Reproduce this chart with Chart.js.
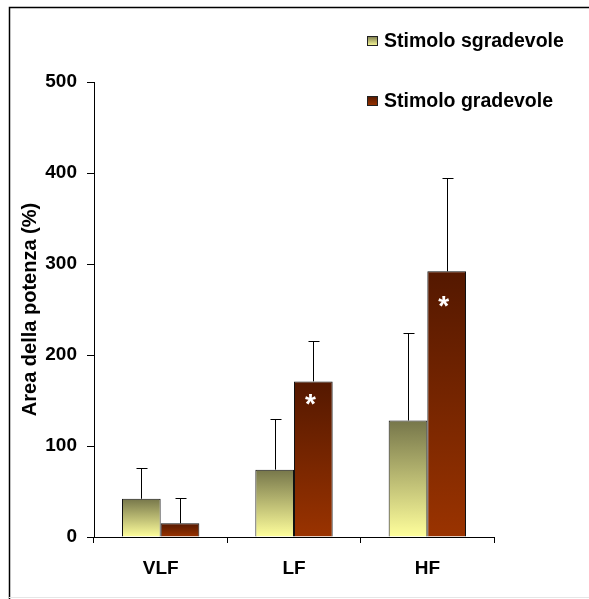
<!DOCTYPE html>
<html>
<head>
<meta charset="utf-8">
<script src="https://cdn.jsdelivr.net/npm/chart.js@4"></script>
<style>
  html, body { margin: 0; padding: 0; background: #fff; }
  #wrap { position: relative; width: 589px; height: 599px; }
  canvas { display: block; }
</style>
</head>
<body>
<div id="wrap"><canvas id="c" width="589" height="599"></canvas></div>
<script>
// Spectral bands on the x axis
const categories = ['VLF', 'LF', 'HF'];
// Series names
const seriesNames = ['Stimolo sgradevole', 'Stimolo gradevole'];
// Mean power area (%) per band
const sgradevole = [42, 74, 128];
const gradevole = [15, 171, 292];
// Upper error (SD) added above each mean
const sgradevoleErr = [34, 56, 96];
const gradevoleErr = [28, 44, 103];
// Significant difference marks (asterisk) per band, on the second series
const significant = [false, true, true];
// Y-axis tick values
const yTicks = [0, 100, 200, 300, 400, 500];

const FONT = '"Liberation Sans", Arial, Helvetica, sans-serif';

// vertical gradient spanning a bar from its top to the zero line
function barGradient(ctx, top, bottom, cTop, cBottom) {
  const g = ctx.createLinearGradient(0, top, 0, bottom);
  g.addColorStop(0, cTop);
  g.addColorStop(1, cBottom);
  return g;
}
const palettes = [
  ['#76764a', '#ffff9c'],
  ['#541800', '#9a3300']
];

function scriptedFill(dsIndex) {
  return function (context) {
    const chart = context.chart;
    const y = chart.scales.y;
    if (!y || context.type !== 'data') return palettes[dsIndex][1];
    const v = context.raw;
    const top = y.getPixelForValue(v);
    const bottom = y.getPixelForValue(0);
    if (!isFinite(top) || !isFinite(bottom) || top === bottom) return palettes[dsIndex][1];
    return barGradient(chart.ctx, top, bottom, palettes[dsIndex][0], palettes[dsIndex][1]);
  };
}

const errors = [sgradevoleErr, gradevoleErr];

// frame, error bars, asterisks and legend drawn on top of the bars
const extras = {
  id: 'extras',
  beforeDraw(chart) {
    const ctx = chart.ctx;
    ctx.save();
    ctx.fillStyle = '#fff';
    ctx.fillRect(0, 0, chart.width, chart.height);
    ctx.strokeStyle = '#000';
    ctx.lineWidth = 1.5;
    ctx.beginPath();
    ctx.moveTo(9.5, 599);
    ctx.lineTo(9.5, 7.5);
    ctx.lineTo(589, 7.5);
    ctx.stroke();
    ctx.strokeStyle = '#e6e6e6';
    ctx.lineWidth = 1;
    ctx.beginPath();
    ctx.moveTo(9, 597.5);
    ctx.lineTo(589, 597.5);
    ctx.stroke();
    ctx.restore();
  },
  afterDatasetsDraw(chart) {
    const ctx = chart.ctx;
    const y = chart.scales.y;
    ctx.save();
    // error bars
    ctx.strokeStyle = '#000';
    ctx.lineWidth = 1;
    chart.data.datasets.forEach((ds, di) => {
      const meta = chart.getDatasetMeta(di);
      meta.data.forEach((bar, i) => {
        const x = Math.round(bar.x) + 0.5;
        const yTop = y.getPixelForValue(ds.data[i]);
        const yErr = Math.round(y.getPixelForValue(ds.data[i] + errors[di][i])) + 0.5;
        ctx.beginPath();
        ctx.moveTo(x, yTop);
        ctx.lineTo(x, yErr);
        ctx.moveTo(x - 5, yErr);
        ctx.lineTo(x + 6, yErr);
        ctx.stroke();
      });
    });
    // asterisks on significant bars
    const meta = chart.getDatasetMeta(1);
    ctx.fillStyle = '#fff';
    ctx.font = 'bold 28px ' + FONT;
    ctx.textAlign = 'center';
    ctx.textBaseline = 'alphabetic';
    const m = ctx.measureText('*');
    const mid = (m.actualBoundingBoxAscent - m.actualBoundingBoxDescent) / 2;
    meta.data.forEach((bar, i) => {
      if (!significant[i]) return;
      const cy = y.getPixelForValue(gradevole[i] * 0.885);
      ctx.fillText('*', bar.x - 3, cy + mid);
    });
    ctx.restore();
  },
  afterDraw(chart) {
    const ctx = chart.ctx;
    ctx.save();
    const rows = [41, 101];
    ctx.font = 'bold 19.5px ' + FONT;
    ctx.textAlign = 'left';
    ctx.textBaseline = 'middle';
    seriesNames.forEach((name, i) => {
      const cy = rows[i];
      const bx = 367, by = cy - 5, bw = 11, bh = 10;
      ctx.fillStyle = barGradient(ctx, by, by + bh, palettes[i][0], palettes[i][1]);
      ctx.fillRect(bx, by, bw, bh);
      ctx.strokeStyle = '#222';
      ctx.lineWidth = 1;
      ctx.strokeRect(bx + 0.5, by + 0.5, bw - 1, bh - 1);
      ctx.fillStyle = '#000';
      ctx.fillText(name, 384, cy + 1);
    });
    ctx.restore();
  }
};

new Chart(document.getElementById('c'), {
  type: 'bar',
  data: {
    labels: categories,
    datasets: [
      {
        label: seriesNames[0],
        data: sgradevole,
        backgroundColor: scriptedFill(0),
        borderColor: '#111',
        borderWidth: 1
      },
      {
        label: seriesNames[1],
        data: gradevole,
        backgroundColor: scriptedFill(1),
        borderColor: '#111',
        borderWidth: 1
      }
    ]
  },
  options: {
    responsive: false,
    devicePixelRatio: 1,
    animation: false,
    events: [],
    layout: { padding: { top: 82, right: 95, bottom: 0, left: 0 } },
    plugins: {
      legend: { display: false },
      tooltip: { enabled: false }
    },
    datasets: {
      bar: { categoryPercentage: 0.58, barPercentage: 1.0 }
    },
    scales: {
      x: {
        grid: {
          offset: true,
          drawOnChartArea: false,
          drawTicks: true,
          tickLength: 6,
          color: '#000',
          lineWidth: 1
        },
        border: { display: true, color: '#000', width: 1 },
        ticks: {
          color: '#000',
          padding: 14,
          font: { family: FONT, size: 19, weight: 'bold' }
        },
        afterFit(scale) { scale.height = 62; }
      },
      y: {
        min: 0,
        max: 500,
        afterBuildTicks(scale) { scale.ticks = yTicks.map(v => ({ value: v })); },
        grid: {
          drawOnChartArea: false,
          drawTicks: true,
          tickLength: 7,
          color: '#000',
          lineWidth: 1
        },
        border: { display: true, color: '#000', width: 1 },
        ticks: {
          color: '#000',
          padding: 10,
          font: { family: FONT, size: 19, weight: 'bold' }
        },
        title: {
          display: true,
          text: 'Area della potenza (%)',
          color: '#000',
          padding: { top: 18, bottom: 0 },
          font: { family: FONT, size: 20, weight: 'bold' }
        },
        afterFit(scale) { scale.width = 94; }
      }
    }
  },
  plugins: [extras]
});
</script>
</body>
</html>
